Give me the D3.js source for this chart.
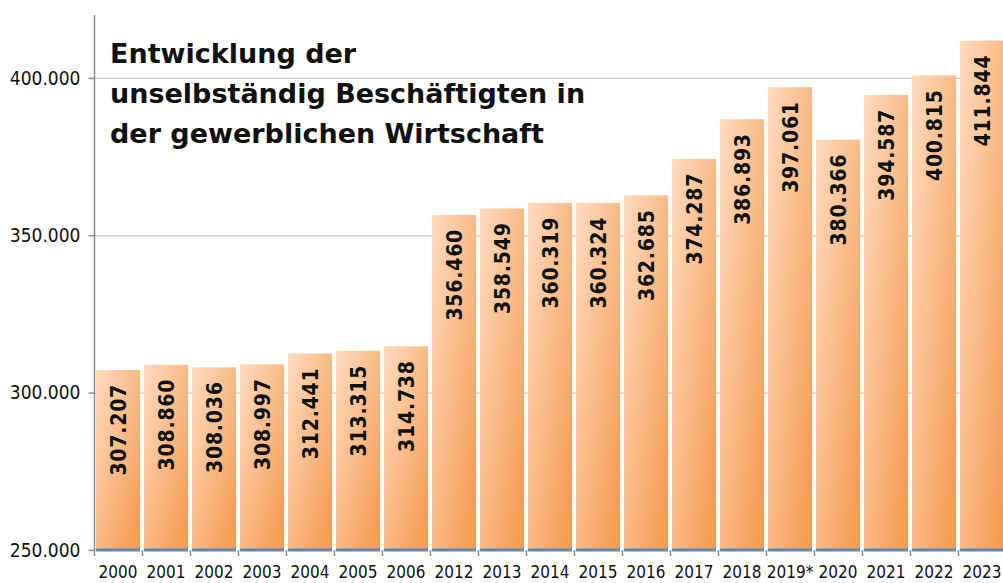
<!DOCTYPE html>
<html>
<head>
<meta charset="utf-8">
<title>Entwicklung der unselbständig Beschäftigten</title>
<script src="https://cdn.jsdelivr.net/npm/d3@7"></script>
<style>
  body { margin: 0; background: #fff; }
  svg { display: block; }
</style>
</head>
<body>
<script>
// data
var years = ["2000", "2001", "2002", "2003", "2004", "2005", "2006", "2012", "2013", "2014",
    "2015", "2016", "2017", "2018", "2019*", "2020", "2021", "2022", "2023"];
var employees = [307207, 308860, 308036, 308997, 312441, 313315, 314738, 356460, 358549, 360319,
    360324, 362685, 374287, 386893, 397061, 380366, 394587, 400815, 411844];
var yTicks = [250000, 300000, 350000, 400000];
var titleLines = ["Entwicklung der", "unselbständig Beschäftigten in", "der gewerblichen Wirtschaft"];

var w = 1003, h = 583;
var plotLeft = 94, plotRight = 1006, plotTop = 15, plotBottom = 550;
var font = "'DejaVu Sans Condensed', 'DejaVu Sans', sans-serif";

var fmt = d3.formatLocale({decimal: ",", thousands: ".", grouping: [3], currency: ["", "€"]}).format(",d");

var svg = d3.select("body").append("svg")
    .attr("width", w)
    .attr("height", h);

var x = d3.scaleBand()
    .domain(years)
    .range([plotLeft, plotRight])
    .paddingInner(0.08)
    .paddingOuter(0.04);

var y = d3.scaleLinear()
    .domain([250000, 420000])
    .range([plotBottom, plotTop]);

// bar gradient
var grad = svg.append("defs").append("linearGradient")
    .attr("id", "barFill")
    .attr("x1", 0).attr("y1", 0)
    .attr("x2", 1).attr("y2", 1);
grad.append("stop").attr("offset", "0%").attr("stop-color", "#fedcc0");
grad.append("stop").attr("offset", "100%").attr("stop-color", "#f3984c");

// gridlines
svg.append("g")
    .selectAll("line")
    .data(yTicks.slice(1))
    .enter()
    .append("line")
    .attr("x1", plotLeft).attr("x2", w)
    .attr("y1", function(d) { return y(d) + 0.5; })
    .attr("y2", function(d) { return y(d) + 0.5; })
    .style("stroke", "#c8c8c8")
    .style("stroke-width", 1.3);

// y axis
var yAxis = svg.append("g")
    .attr("transform", "translate(" + (plotLeft + 0.5) + ",0)")
    .call(d3.axisLeft(y).tickValues(yTicks).tickFormat(fmt).tickSize(6).tickPadding(8));
yAxis.select(".domain").attr("d", "M0," + plotTop + "V" + plotBottom).style("stroke", "#8c8c8c").style("stroke-width", 1.5);
yAxis.selectAll(".tick line").style("stroke", "#8c8c8c").style("stroke-width", 1.5);
yAxis.selectAll(".tick text")
    .style("font-family", font)
    .style("font-size", "19px")
    .style("fill", "#111");

// bars
var bars = svg.append("g")
    .selectAll("g")
    .data(employees)
    .enter()
    .append("g");

bars.append("rect")
    .attr("x", function(d, i) { return x(years[i]); })
    .attr("y", function(d) { return y(d); })
    .attr("width", x.bandwidth())
    .attr("height", function(d) { return y(250000) - y(d); })
    .style("fill", "url(#barFill)");

// blue-grey foot of each bar
bars.append("line")
    .attr("x1", function(d, i) { return x(years[i]); })
    .attr("x2", function(d, i) { return x(years[i]) + x.bandwidth(); })
    .attr("y1", plotBottom)
    .attr("y2", plotBottom)
    .style("stroke", "#6585ad")
    .style("stroke-width", 3);

bars.append("text")
    .text(function(d) { return fmt(d); })
    .attr("transform", function(d, i) {
        return "translate(" + (x(years[i]) + x.bandwidth() / 2) + "," + (y(d) + 14) + ") rotate(-90)";
    })
    .attr("dy", "0.36em")
    .attr("text-anchor", "end")
    .style("font-family", font)
    .style("font-weight", "bold")
    .style("font-size", "21px")
    .style("letter-spacing", "0.8px")
    .style("fill", "#111");

// x axis ticks and labels
var step = x.step();
svg.append("g")
    .selectAll("line")
    .data(years)
    .enter()
    .append("line")
    .attr("x1", function(d) { return x(d) - step * 0.04 + 0.5; })
    .attr("x2", function(d) { return x(d) - step * 0.04 + 0.5; })
    .attr("y1", plotBottom)
    .attr("y2", plotBottom + 6)
    .style("stroke", "#8c8c8c")
    .style("stroke-width", 1.5);

svg.append("g")
    .selectAll("text")
    .data(years)
    .enter()
    .append("text")
    .text(function(d) { return d; })
    .attr("x", function(d) { return x(d) + x.bandwidth() / 2; })
    .attr("y", 578)
    .attr("text-anchor", "middle")
    .style("font-family", font)
    .style("font-size", "17px")
    .style("fill", "#111");

// title
svg.append("g")
    .selectAll("text")
    .data(titleLines)
    .enter()
    .append("text")
    .text(function(d) { return d; })
    .attr("x", 110)
    .attr("y", function(d, i) { return 63 + i * 40; })
    .style("font-family", "'DejaVu Sans', sans-serif")
    .style("font-weight", "bold")
    .style("font-size", "27px")
    .style("fill", "#111");
</script>
</body>
</html>
